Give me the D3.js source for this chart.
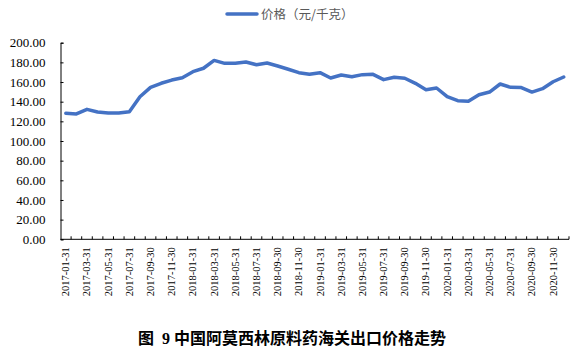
<!DOCTYPE html>
<html>
<head>
<meta charset="utf-8">
<script src="https://cdn.jsdelivr.net/npm/d3@7"></script>
<style>
  body { margin: 0; background: #fff; }
</style>
</head>
<body>
<div id="vizcontainer"></div>
<script>
const months = [
  '2017-01-31', '2017-02-28', '2017-03-31', '2017-04-30', '2017-05-31', '2017-06-30',
  '2017-07-31', '2017-08-31', '2017-09-30', '2017-10-31', '2017-11-30', '2017-12-31',
  '2018-01-31', '2018-02-28', '2018-03-31', '2018-04-30', '2018-05-31', '2018-06-30',
  '2018-07-31', '2018-08-31', '2018-09-30', '2018-10-31', '2018-11-30', '2018-12-31',
  '2019-01-31', '2019-02-28', '2019-03-31', '2019-04-30', '2019-05-31', '2019-06-30',
  '2019-07-31', '2019-08-31', '2019-09-30', '2019-10-31', '2019-11-30', '2019-12-31',
  '2020-01-31', '2020-02-29', '2020-03-31', '2020-04-30', '2020-05-31', '2020-06-30',
  '2020-07-31', '2020-08-31', '2020-09-30', '2020-10-31', '2020-11-30', '2020-12-31'
];

const prices = [
  128.2, 127.5, 132.2, 129.5, 128.5, 128.5, 129.8, 145.0, 154.6, 158.7, 162.0, 164.4,
  170.5, 174.0, 182.0, 179.0, 179.0, 180.4, 177.6, 179.3, 176.3, 173.0, 169.5, 167.8,
  169.5, 164.1, 167.1, 165.4, 167.5, 167.8, 162.4, 164.8, 163.8, 158.7, 152.2, 153.9,
  145.1, 141.0, 140.4, 147.1, 149.8, 158.0, 154.6, 154.3, 149.8, 153.2, 160.3, 165.1
];

const yTicks = [0, 20, 40, 60, 80, 100, 120, 140, 160, 180, 200];
const seriesName = '价格（元/千克）';
const title = '图  9 中国阿莫西林原料药海关出口价格走势';

const
  width = 577,
  height = 351,
  margin = { top: 42.7, right: 8, bottom: 111.7, left: 60.5 },
  lineColor = '#4472C4',
  serif = '"Liberation Serif", "Times New Roman", serif'
  ;

const svg = d3.select('#vizcontainer')
  .append('svg')
  .attr('width', width)
  .attr('height', height);

const x = d3.scaleBand()
  .domain(months)
  .range([margin.left, width - margin.right])
  .padding(0);

const y = d3.scaleLinear()
  .domain([0, 200])
  .range([height - margin.bottom, margin.top]);

// y axis, ticks pointing inward
const yAxis = svg.append('g')
  .attr('transform', `translate(${margin.left},0)`)
  .call(d3.axisLeft(y).tickValues(yTicks).tickFormat(d => d.toFixed(2)).tickSize(-3).tickPadding(15));

// x axis: ticks at category boundaries
const xAxis = svg.append('g')
  .attr('transform', `translate(0,${y(0)})`);

xAxis.append('line')
  .attr('x1', margin.left)
  .attr('x2', width - margin.right)
  .attr('stroke', '#000');

xAxis.selectAll('.bound')
  .data(months)
  .join('line')
  .attr('class', 'bound')
  .attr('x1', d => x(d) + x.bandwidth())
  .attr('x2', d => x(d) + x.bandwidth())
  .attr('y1', 0)
  .attr('y2', -3)
  .attr('stroke', '#000');

xAxis.selectAll('.lbl')
  .data(months.filter((d, i) => i % 2 === 0))
  .join('text')
  .attr('class', 'lbl')
  .attr('transform', d => `translate(${x(d) + x.bandwidth() / 2 + 3.5},8) rotate(-90)`)
  .attr('text-anchor', 'end')
  .attr('font-family', serif)
  .attr('font-size', '10.5px')
  .attr('fill', '#000')
  .text(d => d);

yAxis.select('.domain').attr('stroke', '#000');
yAxis.selectAll('.tick line').attr('stroke', '#000');
yAxis.selectAll('text')
  .attr('font-family', serif)
  .attr('font-size', '13px')
  .attr('fill', '#000');

// series line
const line = d3.line()
  .x((d, i) => x(months[i]) + x.bandwidth() / 2)
  .y(d => y(d));

svg.append('path')
  .datum(prices)
  .attr('d', line)
  .attr('fill', 'none')
  .attr('stroke', lineColor)
  .attr('stroke-width', 3.5)
  .attr('stroke-linejoin', 'round')
  .attr('stroke-linecap', 'round');

// legend
svg.append('line')
  .attr('x1', 227)
  .attr('x2', 257)
  .attr('y1', 14)
  .attr('y2', 14)
  .attr('stroke', lineColor)
  .attr('stroke-width', 3.5)
  .attr('stroke-linecap', 'round');

svg.append('text')
  .attr('x', 261)
  .attr('y', 18.5)
  .attr('font-family', '"Noto Sans CJK SC", sans-serif')
  .attr('font-size', '12.5px')
  .attr('fill', '#595959')
  .text(seriesName);

// caption
svg.append('text')
  .attr('x', 292)
  .attr('y', 343.5)
  .attr('text-anchor', 'middle')
  .attr('xml:space', 'preserve')
  .style('white-space', 'pre')
  .attr('font-family', '"Liberation Serif", "Noto Sans CJK SC", serif')
  .attr('font-size', '16px')
  .attr('font-weight', 'bold')
  .attr('fill', '#000')
  .text(title);
</script>
</body>
</html>
